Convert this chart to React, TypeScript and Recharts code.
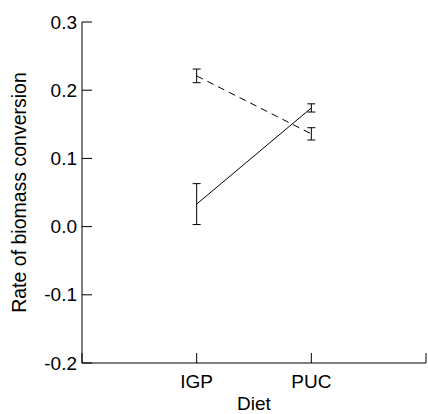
import React from "react";
import { ComposedChart, Line, XAxis, YAxis, ErrorBar } from "recharts";

const categories = ["IGP", "PUC"];
const categoryPositions = [1, 2];
const solidValues = [0.033, 0.174];
const solidErrors = [0.03, 0.006];
const dashedValues = [0.221, 0.136];
const dashedErrors = [0.01, 0.009];
const yTicks = [-0.2, -0.1, 0.0, 0.1, 0.2, 0.3];
const xTicks = [0, 1, 2, 3];

const data = categories.map((c, i) => ({
  x: categoryPositions[i],
  name: c,
  solid: solidValues[i],
  solidErr: solidErrors[i],
  dashed: dashedValues[i],
  dashedErr: dashedErrors[i],
}));

const FONT = "'Liberation Sans', Arial, sans-serif";

const XTick = (props: any) => {
  const { x, y, payload } = props;
  const idx = categoryPositions.indexOf(payload.value);
  return (
    <g>
      <line x1={x} x2={x} y1={y} y2={y - 10} stroke="#000" strokeWidth={1} />
      {idx >= 0 && (
        <text x={x} y={y + 25} textAnchor="middle" fontSize={19} fontFamily={FONT} fill="#000">
          {categories[idx]}
        </text>
      )}
    </g>
  );
};

const YTick = (props: any) => {
  const { x, y, payload } = props;
  return (
    <g>
      <line x1={x} x2={x + 10} y1={y} y2={y} stroke="#000" strokeWidth={1} />
      <text x={x - 5} y={y} dy="0.35em" textAnchor="end" fontSize={19} fontFamily={FONT} fill="#000">
        {Number(payload.value).toFixed(1)}
      </text>
    </g>
  );
};

export default function App() {
  return (
    <div style={{ position: "absolute", left: 0, top: 0, background: "#fff" }}>
      <ComposedChart
        width={428}
        height={414}
        data={data}
        margin={{ top: 22, right: 2, left: 0, bottom: 0 }}
      >
        <XAxis
          dataKey="x"
          type="number"
          domain={[0, 3]}
          ticks={xTicks}
          interval={0}
          tickSize={0}
          tickMargin={0}
          tickLine={false}
          tick={<XTick />}
          axisLine={{ stroke: "#000" }}
          height={51}
          label={{ value: "Diet", position: "center", dy: 15, fontSize: 19, fontFamily: FONT, fill: "#000" }}
        />
        <YAxis
          type="number"
          domain={[-0.2, 0.3]}
          ticks={yTicks}
          interval={0}
          tickSize={0}
          tickMargin={0}
          tickLine={false}
          tick={<YTick />}
          axisLine={{ stroke: "#000" }}
          width={82}
          label={{ value: "Rate of biomass conversion", angle: -90, position: "center", dx: -22, dy: 0, fontSize: 19.5, fontFamily: FONT, fill: "#000" }}
        />
        <Line
          type="linear"
          dataKey="solid"
          stroke="#000"
          strokeWidth={1}
          dot={false}
          activeDot={false}
          isAnimationActive={false}
        >
          <ErrorBar dataKey="solidErr" width={4} stroke="#000" strokeWidth={1} direction="y" isAnimationActive={false} />
        </Line>
        <Line
          type="linear"
          dataKey="dashed"
          stroke="#000"
          strokeWidth={1}
          strokeDasharray="7 5"
          dot={false}
          activeDot={false}
          isAnimationActive={false}
        >
          <ErrorBar dataKey="dashedErr" width={4} stroke="#000" strokeWidth={1} direction="y" isAnimationActive={false} />
        </Line>
      </ComposedChart>
    </div>
  );
}
